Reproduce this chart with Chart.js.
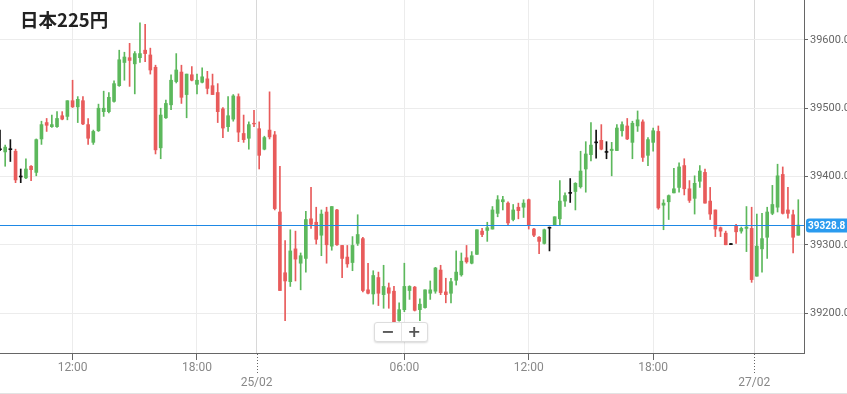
<!DOCTYPE html>
<html>
<head>
<meta charset="utf-8">
<script src="https://cdn.jsdelivr.net/npm/chart.js@4.4.1/dist/chart.umd.min.js"></script>
<style>
  html, body { margin: 0; padding: 0; background: #fff; }
  #wrap { position: relative; width: 847px; height: 393px; border-bottom: 1px solid #e3e3e3; }
  #title { position: absolute; left: 20px; top: 6px; font: bold 18.5px "Noto Sans CJK JP", "Noto Sans", sans-serif; color: #222; }
  #zoom { position: absolute; left: 374px; top: 322px; width: 52px; height: 18px; border: 1px solid #ddd; border-radius: 3px;
          background: #fff; box-shadow: 0 1px 2px rgba(0,0,0,.15); display: flex; font: bold 16px "DejaVu Sans", sans-serif; color: #555; }
  #zoom span { flex: 1; text-align: center; line-height: 18px; }
  #zoom span + span { border-left: 1px solid #e6e6e6; }
</style>
</head>
<body>
<div id="wrap">
  <canvas id="chart" width="847" height="393"></canvas>
  <div id="title">日本225円</div>
  <div id="zoom"><span>−</span><span>+</span></div>
</div>
<script>
// 15-minute candles
const open = [39440,39436,39440,39437,39400,39398,39415,39406,39455,39479,39473,39473,39489,39488,39511,39502,39511,39476,39450,39467,
  39495,39495,39510,39533,39567,39574,39565,39574,39585,39578,39560,39442,39486,39505,39539,39553,39520,39549,39535,39538,
  39543,39533,39523,39499,39473,39484,39517,39463,39456,39478,39470,39440,39468,39461,39348,39259,39246,39294,39273,39280,
  39338,39333,39314,39348,39298,39351,39299,39282,39274,39302,39309,39234,39228,39252,39227,39237,39232,39189,39205,39233,
  39238,39205,39208,39229,39232,39263,39231,39229,39248,39256,39281,39273,39286,39320,39321,39323,39346,39363,39361,39337,
  39355,39355,39366,39323,39311,39302,39325,39329,39338,39364,39376,39378,39385,39411,39432,39450,39453,39436,39438,39438,
  39467,39474,39450,39474,39480,39431,39450,39466,39358,39363,39376,39384,39416,39382,39368,39393,39406,39364,39351,39325,
  39317,39301,39328,39320,39324,39324,39254,39294,39311,39346,39355,39403,39351,39344,39314];
const high = [39468,39446,39454,39440,39411,39426,39416,39455,39481,39485,39490,39495,39495,39511,39541,39517,39517,39485,39468,39506,
  39525,39523,39540,39585,39582,39595,39583,39625,39623,39588,39563,39500,39512,39549,39580,39563,39550,39561,39550,39559,
  39554,39550,39536,39501,39517,39520,39521,39490,39480,39497,39480,39459,39524,39466,39415,39306,39322,39320,39288,39349,
  39384,39355,39351,39355,39356,39352,39299,39299,39312,39344,39311,39273,39262,39260,39270,39244,39239,39215,39273,39240,
  39239,39221,39234,39247,39267,39270,39251,39251,39291,39288,39299,39290,39322,39324,39333,39356,39372,39371,39363,39359,
  39361,39366,39367,39324,39312,39323,39326,39341,39394,39376,39397,39391,39437,39451,39479,39468,39476,39451,39450,39476,
  39480,39485,39481,39496,39483,39457,39471,39474,39366,39373,39412,39420,39426,39394,39401,39416,39411,39384,39351,39326,
  39320,39302,39330,39326,39356,39355,39345,39346,39355,39387,39418,39414,39384,39351,39366];
const low = [39438,39415,39422,39391,39391,39397,39394,39401,39447,39466,39472,39472,39483,39483,39501,39479,39476,39447,39447,39466,
  39488,39493,39509,39532,39541,39532,39521,39567,39568,39550,39433,39426,39485,39498,39537,39507,39486,39540,39521,39537,
  39521,39520,39479,39457,39466,39481,39451,39450,39440,39473,39411,39439,39455,39351,39233,39189,39239,39247,39234,39260,
  39324,39301,39284,39273,39292,39299,39252,39267,39262,39299,39231,39228,39213,39211,39207,39207,39183,39188,39202,39220,
  39203,39189,39207,39220,39229,39227,39215,39215,39241,39254,39273,39272,39286,39312,39305,39323,39341,39351,39329,39335,
  39338,39340,39323,39312,39287,39301,39291,39328,39329,39356,39362,39351,39383,39377,39423,39427,39439,39426,39401,39438,
  39459,39454,39426,39466,39422,39416,39437,39352,39322,39337,39376,39377,39373,39362,39345,39384,39361,39337,39312,39312,
  39300,39300,39302,39317,39290,39245,39254,39260,39280,39344,39348,39345,39339,39288,39314];
const close = [39440,39443,39440,39395,39400,39411,39410,39454,39476,39475,39476,39485,39484,39511,39502,39513,39477,39456,39466,39500,
  39500,39516,39536,39571,39575,39570,39580,39580,39580,39556,39439,39490,39507,39541,39556,39516,39550,39541,39541,39546,
  39529,39520,39495,39471,39489,39518,39465,39454,39476,39477,39431,39457,39458,39353,39233,39247,39291,39279,39284,39337,
  39330,39308,39345,39300,39356,39300,39280,39272,39299,39315,39233,39229,39255,39229,39239,39229,39185,39205,39239,39239,
  39204,39213,39234,39234,39266,39230,39227,39246,39260,39276,39275,39284,39322,39315,39325,39351,39366,39366,39332,39351,
  39350,39361,39328,39314,39305,39322,39325,39341,39364,39372,39376,39390,39408,39433,39446,39450,39440,39436,39440,39471,
  39476,39455,39478,39483,39428,39454,39467,39354,39361,39372,39382,39414,39382,39365,39390,39408,39361,39345,39323,39320,
  39300,39301,39319,39324,39326,39249,39298,39309,39348,39359,39401,39346,39346,39311,39328.8];

// axis
const yTicks = [39200, 39300, 39400, 39500, 39600];
const xTickAt = [14, 38, 49.5, 78, 102, 126, 145.5];
const xTickText = ['12:00', '18:00', '25/02', '06:00', '12:00', '18:00', '27/02'];
const lastPrice = 39328.8;

const isDay = (i) => xTickText[i] && xTickText[i].includes('/');

const candleColor = close.map((c, i) => {
    if (c === open[i]) return '#111';
    return c > open[i] ? '#5cb85c' : '#e85b5b';
});

const bodyData = open.map((o, i) => {
    const c = close[i];
    if (c === o) return { x: i, y: [c - 0.7, c + 0.7] };
    return { x: i, y: [Math.min(o, c), Math.max(o, c)] };
});
const wickData = open.map((o, i) => ({ x: i, y: [low[i], high[i]] }));

// current price line + label, dotted day ticks
const extras = {
    id: 'extras',
    afterDatasetsDraw(chart) {
        const { ctx, chartArea, scales } = chart;
        const y = Math.floor(scales.y.getPixelForValue(lastPrice)) + 0.5;
        ctx.save();
        ctx.strokeStyle = '#1e88e5';
        ctx.lineWidth = 1;
        ctx.beginPath();
        ctx.moveTo(chartArea.left, y);
        ctx.lineTo(chartArea.right, y);
        ctx.stroke();

        ctx.fillStyle = '#2a9bef';
        ctx.beginPath();
        ctx.roundRect(chartArea.right + 2, y - 7, 45, 14, 3);
        ctx.fill();
        ctx.fillStyle = '#fff';
        ctx.font = 'bold 10px Roboto, sans-serif';
        ctx.textBaseline = 'middle';
        ctx.fillText(lastPrice.toFixed(1), chartArea.right + 4, y + 0.5);

        ctx.strokeStyle = '#666';
        ctx.setLineDash([1, 2]);
        xTickAt.forEach((v, i) => {
            if (!isDay(i)) return;
            const x = Math.round(scales.x.getPixelForValue(v)) + 0.5;
            ctx.beginPath();
            ctx.moveTo(x, chartArea.bottom + 1);
            ctx.lineTo(x, chartArea.bottom + 20);
            ctx.stroke();
        });
        ctx.restore();
    }
};

const chart = new Chart(document.getElementById('chart').getContext('2d'), {
    type: 'bar',
    data: {
        datasets: [
            { data: bodyData, backgroundColor: candleColor, barThickness: 3, grouped: false },
            { data: wickData, backgroundColor: candleColor, barThickness: 1, grouped: false }
        ]
    },
    options: {
        responsive: false,
        animation: false,
        layout: { padding: 0 },
        plugins: { legend: { display: false }, tooltip: { enabled: false } },
        scales: {
            x: {
                type: 'linear',
                min: 0,
                max: 155.1,
                offset: false,
                afterBuildTicks: (axis) => { axis.ticks = xTickAt.map(v => ({ value: v })); },
                afterFit: (axis) => { axis.height = 40; axis.paddingLeft = 0; axis.paddingRight = 0; },
                border: { color: '#666' },
                grid: {
                    offset: false,
                    color: (c) => isDay(c.index) ? '#d8d8d8' : '#ececec',
                    tickColor: (c) => isDay(c.index) ? 'rgba(0,0,0,0)' : '#666',
                    tickLength: 7
                },
                ticks: {
                    autoSkip: false,
                    maxRotation: 0,
                    padding: 1,
                    color: '#888',
                    font: { family: 'Roboto, sans-serif', size: 12 },
                    callback: (v, i) => isDay(i) ? ['', xTickText[i]] : xTickText[i]
                }
            },
            y: {
                position: 'right',
                min: 39141.5,
                max: 39658.5,
                afterBuildTicks: (axis) => { axis.ticks = yTicks.map(v => ({ value: v })); },
                afterFit: (axis) => { axis.width = 43; axis.paddingTop = 0; axis.paddingBottom = 0; },
                border: { color: '#666' },
                grid: { color: '#ececec', tickColor: '#666', tickLength: 4 },
                ticks: {
                    padding: 2,
                    color: '#666',
                    font: { family: 'Roboto, sans-serif', size: 11 },
                    callback: (v) => v.toFixed(1)
                }
            }
        }
    },
    plugins: [extras]
});
</script>
</body>
</html>
